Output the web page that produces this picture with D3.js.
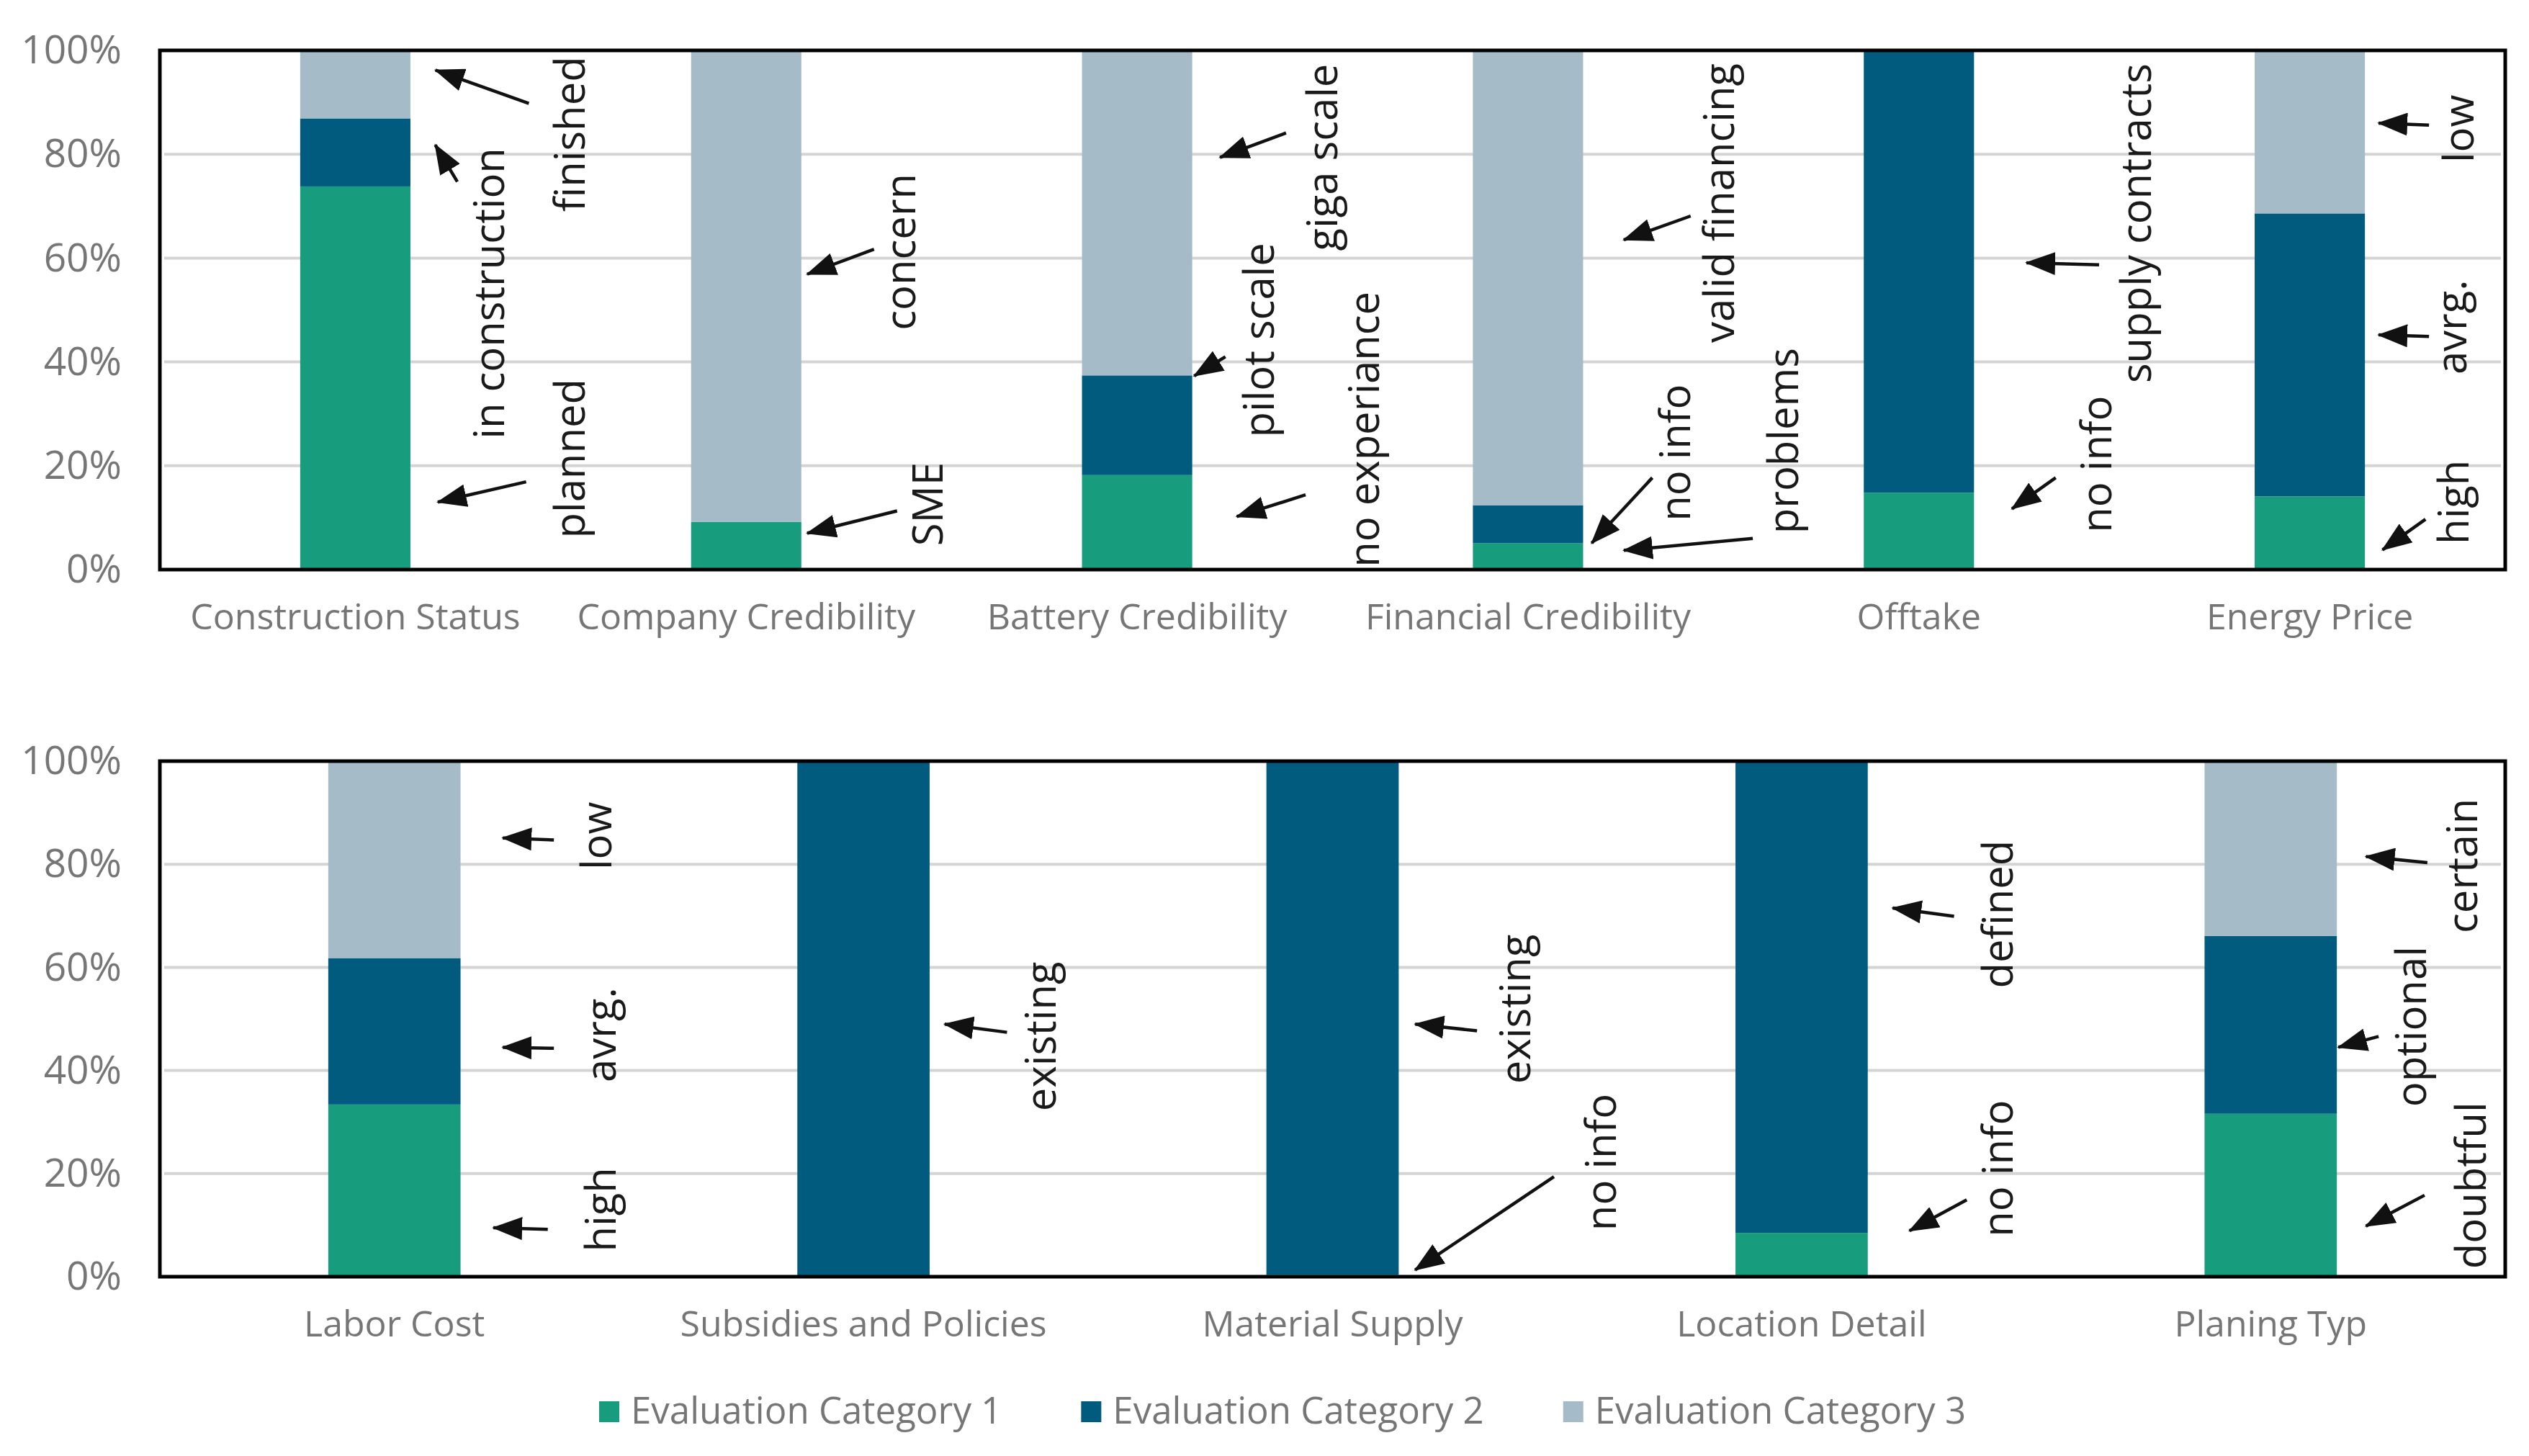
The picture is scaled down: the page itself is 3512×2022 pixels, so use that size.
<!DOCTYPE html>
<html>
<head>
<meta charset="utf-8">
<script src="https://cdn.jsdelivr.net/npm/d3@7"></script>
<style>
  body { margin: 0; background: #fff; }
  svg { display: block; font-family: "Open Sans", sans-serif; }
</style>
</head>
<body>
<svg id="chart" width="3512" height="2022"></svg>
<script>
const seriesNames = ["Evaluation Category 1", "Evaluation Category 2", "Evaluation Category 3"];
const seriesColors = ["#179c7d", "#005b7f", "#a6bbc8"];
const yTicks = [0, 20, 40, 60, 80, 100];

// upper chart
const topCategories = ["Construction Status", "Company Credibility", "Battery Credibility", "Financial Credibility", "Offtake", "Energy Price"];
const topCat1 = [73.8, 9.2, 18.2, 5.1, 14.8, 14.1];
const topCat2 = [13.1, 0, 19.2, 7.3, 85.2, 54.5];
const topCat3 = [13.1, 90.8, 62.6, 87.6, 0, 31.4];

// lower chart
const bottomCategories = ["Labor Cost", "Subsidies and Policies", "Material Supply", "Location Detail", "Planing Typ"];
const bottomCat1 = [33.4, 0, 0.4, 8.5, 31.6];
const bottomCat2 = [28.4, 100, 99.6, 91.5, 34.5];
const bottomCat3 = [38.2, 0, 0, 0, 33.9];

// notes: category, text, text x (in band steps from centre), text centre (%),
// arrow start dx, start %, arrow tip dx, tip %
const topNotes = [
  ["Construction Status", "finished", 0.587, 83.9, 0.444, 89.8, 0.205, 96.2],
  ["Construction Status", "in construction", 0.381, 53.2, 0.261, 74.7, 0.2045, 81.8],
  ["Construction Status", "planned", 0.587, 21.4, 0.437, 16.9, 0.211, 13.0],
  ["Company Credibility", "concern", 0.433, 61.2, 0.327, 61.7, 0.156, 56.9],
  ["Company Credibility", "SME", 0.503, 12.6, 0.386, 11.3, 0.156, 7.0],
  ["Battery Credibility", "giga scale", 0.512, 79.4, 0.381, 84.1, 0.212, 79.4],
  ["Battery Credibility", "pilot scale", 0.350, 44.2, 0.226, 41.0, 0.146, 37.3],
  ["Battery Credibility", "no experiance", 0.619, 27.0, 0.431, 14.4, 0.255, 10.2],
  ["Financial Credibility", "valid financing", 0.527, 70.6, 0.416, 68.1, 0.245, 63.5],
  ["Financial Credibility", "no info", 0.415, 22.5, 0.318, 17.7, 0.163, 5.1],
  ["Financial Credibility", "problems", 0.691, 24.8, 0.575, 6.0, 0.245, 3.7],
  ["Offtake", "supply contracts", 0.594, 66.7, 0.461, 58.7, 0.275, 59.1],
  ["Offtake", "no info", 0.493, 20.3, 0.350, 17.7, 0.238, 11.7],
  ["Energy Price", "low", 0.419, 84.9, 0.305, 85.6, 0.176, 86.0],
  ["Energy Price", "avrg.", 0.401, 46.7, 0.305, 44.9, 0.176, 45.2],
  ["Energy Price", "high", 0.406, 13.0, 0.296, 9.7, 0.186, 3.8]
];
const bottomNotes = [
  ["Labor Cost", "low", 0.4625, 85.5, 0.340, 84.7, 0.231, 85.1],
  ["Labor Cost", "avrg.", 0.471, 46.9, 0.340, 44.3, 0.231, 44.5],
  ["Labor Cost", "high", 0.471, 13.0, 0.327, 9.2, 0.211, 9.5],
  ["Subsidies and Policies", "existing", 0.410, 46.6, 0.306, 47.4, 0.173, 49.0],
  ["Material Supply", "existing", 0.421, 51.9, 0.308, 47.7, 0.176, 49.0],
  ["Material Supply", "no info", 0.604, 22.2, 0.472, 19.4, 0.176, 1.3],
  ["Location Detail", "defined", 0.450, 70.3, 0.325, 69.9, 0.194, 71.5],
  ["Location Detail", "no info", 0.450, 21.0, 0.352, 14.9, 0.230, 8.9],
  ["Planing Typ", "certain", 0.440, 79.7, 0.334, 80.3, 0.203, 81.5],
  ["Planing Typ", "optional", 0.331, 48.5, 0.230, 46.6, 0.144, 44.5],
  ["Planing Typ", "doubtful", 0.459, 17.7, 0.328, 15.8, 0.203, 9.8]
];

const svg = d3.select("#chart");
const left = 222, right = 3479;
const keys = ["c1", "c2", "c3"];

svg.append("defs").append("marker")
  .attr("id", "head")
  .attr("markerUnits", "userSpaceOnUse")
  .attr("viewBox", "0 0 42 32")
  .attr("markerWidth", 42).attr("markerHeight", 32)
  .attr("refX", 40).attr("refY", 16)
  .attr("orient", "auto")
  .append("path").attr("d", "M0,0 L42,16 L0,32 Z").attr("fill", "#111");

function drawPanel(cats, c1, c2, c3, notes, top, bottom) {
  const rows = cats.map((name, i) => ({ name, c1: c1[i], c2: c2[i], c3: c3[i] }));
  const x = d3.scaleBand().domain(cats).range([left, right]).paddingInner(0.718).paddingOuter(0.359);
  const y = d3.scaleLinear().domain([0, 100]).range([bottom, top]);
  const step = x.step();
  const mid = d => x(d) + x.bandwidth() / 2;
  const g = svg.append("g");

  // grid
  g.append("g").selectAll("line").data(yTicks.slice(1, -1)).enter().append("line")
    .attr("x1", left + 6).attr("x2", right - 6)
    .attr("y1", d => y(d)).attr("y2", d => y(d))
    .attr("stroke", "#d4d4d4").attr("stroke-width", 4);

  // bars
  const stacked = d3.stack().keys(keys)(rows);
  g.append("g").selectAll("g").data(stacked).enter().append("g")
    .attr("fill", (d, i) => seriesColors[i])
    .selectAll("rect").data(d => d).enter().append("rect")
    .attr("x", d => x(d.data.name))
    .attr("width", x.bandwidth())
    .attr("y", d => y(d[1]))
    .attr("height", d => y(d[0]) - y(d[1]));

  // frame
  g.append("rect").attr("x", left).attr("y", top)
    .attr("width", right - left).attr("height", bottom - top)
    .attr("fill", "none").attr("stroke", "#000").attr("stroke-width", 5);

  // y axis
  const yAxis = g.append("g").attr("transform", `translate(${left},0)`)
    .call(d3.axisLeft(y).tickValues(yTicks).tickFormat(d => d + "%").tickSize(0).tickPadding(53));
  yAxis.select(".domain").remove();
  yAxis.selectAll("text").attr("font-size", 55).attr("fill", "#767676")
    .attr("font-family", "Open Sans, sans-serif");

  // category labels
  g.append("g").selectAll("text").data(cats).enter().append("text")
    .attr("x", d => mid(d)).attr("y", bottom + 83)
    .attr("text-anchor", "middle").attr("font-size", 50).attr("fill", "#767676")
    .text(d => d);

  // notes
  const ng = g.append("g");
  notes.forEach(([cat, label, tx, ty, ax1, ay1, ax2, ay2]) => {
    const c = mid(cat);
    ng.append("text")
      .attr("transform", `translate(${c + tx * step},${y(ty)}) rotate(-90)`)
      .attr("text-anchor", "middle").attr("font-size", 58).attr("fill", "#1a1a1a")
      .text(label);
    ng.append("line")
      .attr("x1", c + ax1 * step).attr("y1", y(ay1))
      .attr("x2", c + ax2 * step).attr("y2", y(ay2))
      .attr("stroke", "#111").attr("stroke-width", 4.5)
      .attr("marker-end", "url(#head)");
  });
}

drawPanel(topCategories, topCat1, topCat2, topCat3, topNotes, 70, 791);
drawPanel(bottomCategories, bottomCat1, bottomCat2, bottomCat3, bottomNotes, 1057, 1773);

// legend
const legend = svg.append("g").attr("transform", "translate(832,1960)");
let lx = 0;
seriesNames.forEach((name, i) => {
  const item = legend.append("g").attr("transform", `translate(${lx},0)`);
  item.append("rect").attr("x", 0).attr("y", -14).attr("width", 28).attr("height", 29).attr("fill", seriesColors[i]);
  const t = item.append("text").attr("x", 44).attr("y", 17)
    .attr("font-size", 51).attr("fill", "#767676").text(name);
  lx += 44 + t.node().getComputedTextLength() + 110;
});
</script>
</body>
</html>
